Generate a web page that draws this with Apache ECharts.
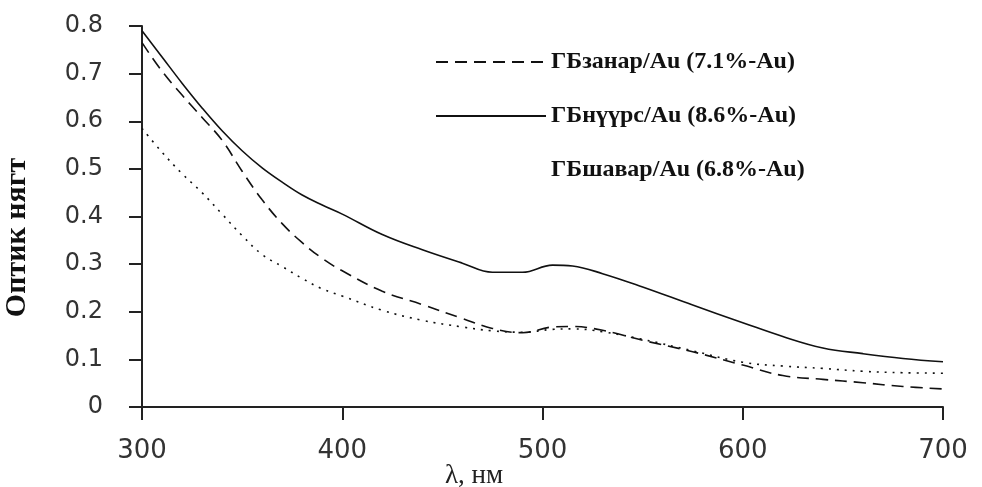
<!DOCTYPE html>
<html>
<head>
<meta charset="utf-8">
<script src="https://cdn.jsdelivr.net/npm/echarts@6/dist/echarts.min.js"></script>
<style>
  html, body { margin: 0; padding: 0; background: #fff; }
  #chart { width: 982px; height: 487px; }
</style>
</head>
<body>
<div id="chart"></div>
<script>
// wavelength, nm
const wavelengths = [300, 310, 320, 330, 340, 350, 360, 370, 380, 390, 400, 420, 440, 460, 475, 490, 505, 515, 530, 550, 575, 600, 620, 640, 660, 680, 700];

// optical density
const zanar = [0.765, 0.705, 0.655, 0.608, 0.56, 0.495, 0.435, 0.385, 0.345, 0.312, 0.286, 0.243, 0.215, 0.186, 0.165, 0.156, 0.168, 0.169, 0.161, 0.14, 0.116, 0.088, 0.066, 0.058, 0.051, 0.043, 0.038];
const nuurs = [0.79, 0.735, 0.68, 0.628, 0.58, 0.538, 0.502, 0.472, 0.445, 0.424, 0.405, 0.362, 0.33, 0.302, 0.283, 0.283, 0.298, 0.296, 0.28, 0.252, 0.214, 0.177, 0.148, 0.124, 0.112, 0.102, 0.095];
const shavar = [0.585, 0.535, 0.49, 0.45, 0.405, 0.36, 0.32, 0.295, 0.27, 0.248, 0.233, 0.203, 0.182, 0.168, 0.16, 0.157, 0.163, 0.164, 0.158, 0.142, 0.118, 0.094, 0.086, 0.081, 0.075, 0.072, 0.071];

const seriesNames = ["ГБзанар/Au (7.1%-Au)", "ГБнүүрс/Au (8.6%-Au)", "ГБшавар/Au (6.8%-Au)"];

const pairs = (ys) => wavelengths.map((x, i) => [x, ys[i]]);

const chart = echarts.init(document.getElementById("chart"));

const axisLine = { show: true, lineStyle: { color: "#222", width: 2 } };
const axisTick = { show: true, length: 13, lineStyle: { color: "#222", width: 2 } };

chart.setOption({
  animation: false,
  backgroundColor: "#fff",
  grid: { left: 142, right: 39, top: 26, bottom: 80, containLabel: false, outerBoundsMode: "none" },
  legend: {
    orient: "vertical",
    left: 430,
    top: 45,
    itemWidth: 110,
    itemHeight: 14,
    itemGap: 30,
    selectedMode: false,
    itemStyle: { opacity: 0 },
    textStyle: { color: "#111", fontSize: 24, fontWeight: "bold", fontFamily: "Liberation Serif" },
    data: [
      { name: seriesNames[0] },
      { name: seriesNames[1] },
      { name: seriesNames[2], lineStyle: { opacity: 0 } },
    ],
  },
  xAxis: {
    type: "value",
    min: 300,
    max: 700,
    interval: 100,
    name: "λ, нм",
    nameLocation: "middle",
    nameGap: 55,
    nameMoveOverlap: false,
    nameTextStyle: { color: "#222", fontSize: 27, fontFamily: "Liberation Serif", padding: [0, 137, 0, 0] },
    axisLine: axisLine,
    axisTick: axisTick,
    axisLabel: { color: "#333", fontSize: 26, fontFamily: "DejaVu Sans", margin: 31 },
    splitLine: { show: false },
  },
  yAxis: {
    type: "value",
    min: 0,
    max: 0.8,
    interval: 0.1,
    name: "Оптик нягт",
    nameLocation: "middle",
    nameGap: 110,
    nameRotate: 90,
    nameTextStyle: { color: "#111", fontSize: 30, fontWeight: "bold", fontFamily: "Liberation Serif", padding: [0, 42, 0, 0] },
    axisLine: axisLine,
    axisTick: axisTick,
    axisLabel: {
      color: "#333",
      fontSize: 24,
      fontFamily: "DejaVu Sans",
      margin: 39,
      formatter: (v) => (v === 0 ? "0" : v.toFixed(1)),
    },
    splitLine: { show: false },
  },
  series: [
    {
      name: seriesNames[0],
      type: "line",
      smooth: 0.4,
      symbol: "none",
      lineStyle: { color: "#111", width: 1.6, type: [12, 7] },
      itemStyle: { color: "#111" },
      data: pairs(zanar),
    },
    {
      name: seriesNames[1],
      type: "line",
      smooth: 0.4,
      symbol: "none",
      lineStyle: { color: "#111", width: 1.6, type: "solid" },
      itemStyle: { color: "#111" },
      data: pairs(nuurs),
    },
    {
      name: seriesNames[2],
      type: "line",
      smooth: 0.4,
      symbol: "none",
      lineStyle: { color: "#111", width: 1.6, type: [2, 6] },
      itemStyle: { color: "#111" },
      data: pairs(shavar),
    },
  ],
});
</script>
</body>
</html>
